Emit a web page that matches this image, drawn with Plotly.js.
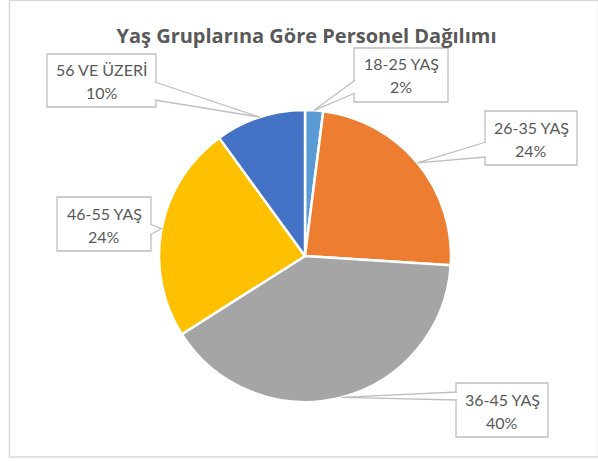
<!DOCTYPE html>
<html>
<head>
<meta charset="utf-8">
<script src="https://cdn.plot.ly/plotly-3.0.1.min.js"></script>
<style>html,body{margin:0;padding:0;background:#fff;}#chart{width:598px;height:461px;}</style>
</head>
<body>
<div id="chart"></div>
<script>
// ---- data ----
const categories = ['18-25 YAŞ', '26-35 YAŞ', '36-45 YAŞ', '46-55 YAŞ', '56 VE ÜZERİ'];
const values = [2, 24, 40, 24, 10];
const colors = ['#5B9BD5', '#ED7D31', '#A5A5A5', '#FFC000', '#4472C4'];
const chartTitle = 'Yaş Gruplarına Göre Personel Dağılımı';

// ---- layout (pixels) ----
const W = 598, H = 461;
const cx = 305, cy = 256, r = 146;
// callout boxes: [x0, y0, x1, y1], side of pointer, pointer base y range
const boxes = [
  {rect: [354, 48, 448, 102], side: 'left',  base: [80, 93]},
  {rect: [485, 111, 577, 165], side: 'left', base: [142, 157]},
  {rect: [456, 383, 548, 437], side: 'left', base: [392, 400]},
  {rect: [57, 197, 151, 251], side: 'right', base: [224, 235]},
  {rect: [47, 54, 156, 107], side: 'right', base: [82, 100]}
];

const px = x => x / W;
const py = y => 1 - y / H;

const total = values.reduce((a, b) => a + b, 0);
const shapes = [];
const annotations = [];
const gray = '#BFBFBF';
const txt = '#595959';

// outer chart border
shapes.push({type: 'rect', xref: 'paper', yref: 'paper', x0: px(9.5), x1: px(598.5), y0: py(457), y1: py(0.5),
  line: {color: '#D9D9D9', width: 1.5}, fillcolor: 'rgba(0,0,0,0)', layer: 'below'});

let cum = 0;
values.forEach((v, i) => {
  const mid = (cum + v / 2) / total;
  cum += v;
  const th = 2 * Math.PI * mid;
  const tx = cx + r * Math.sin(th);
  const ty = cy - r * Math.cos(th);
  const b = boxes[i];
  const [x0, y0, x1, y1] = b.rect;
  shapes.push({type: 'rect', xref: 'paper', yref: 'paper', x0: px(x0), x1: px(x1), y0: py(y1), y1: py(y0),
    line: {color: gray, width: 1.3}, fillcolor: '#FFFFFF'});
  const bx = b.side === 'left' ? x0 + 1.2 : x1 - 1.2;
  const path = 'M ' + px(bx) + ',' + py(b.base[0]) + ' L ' + px(tx) + ',' + py(ty) + ' L ' + px(bx) + ',' + py(b.base[1]);
  shapes.push({type: 'path', xref: 'paper', yref: 'paper', path: path, line: {color: gray, width: 1.3}, fillcolor: '#FFFFFF'});
  const mx = (x0 + x1) / 2, my = (y0 + y1) / 2;
  annotations.push({xref: 'paper', yref: 'paper', x: px(mx), y: py(my - 11), text: categories[i], showarrow: false,
    xanchor: 'center', yanchor: 'middle', font: {family: 'Lato, sans-serif', size: 16, color: txt}});
  annotations.push({xref: 'paper', yref: 'paper', x: px(mx), y: py(my + 12), text: Math.round(v / total * 100) + '%', showarrow: false,
    xanchor: 'center', yanchor: 'middle', font: {family: 'Lato, sans-serif', size: 16, color: txt}});
});

const trace = {
  type: 'pie',
  labels: categories,
  values: values,
  sort: false,
  direction: 'clockwise',
  rotation: 0,
  textinfo: 'none',
  hoverinfo: 'label+percent',
  marker: {colors: colors, line: {color: '#FFFFFF', width: 2.5}},
  domain: {x: [px(cx - r), px(cx + r)], y: [py(cy + r), py(cy - r)]},
  showlegend: false
};

const layout = {
  width: W, height: H,
  margin: {l: 0, r: 0, t: 0, b: 0},
  paper_bgcolor: '#FFFFFF',
  title: {text: '<b>' + chartTitle + '</b>', x: px(306.5), y: py(36), xanchor: 'center', yanchor: 'middle',
    xref: 'paper', yref: 'paper', font: {family: 'Open Sans, sans-serif', size: 20, color: txt}},
  shapes: shapes,
  annotations: annotations,
  showlegend: false
};

Plotly.newPlot('chart', [trace], layout, {displayModeBar: false, staticPlot: true});
</script>
</body>
</html>
